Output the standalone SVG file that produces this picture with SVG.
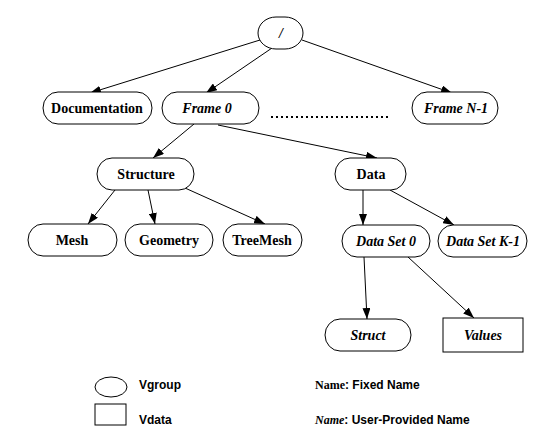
<svg xmlns="http://www.w3.org/2000/svg" width="556" height="436" viewBox="0 0 556 436">
<style>
.n{fill:#fff;stroke:#000;stroke-width:1}
.t{font-family:"Liberation Serif",serif;font-size:14px;font-weight:bold;text-anchor:middle;fill:#000}
.i{font-style:italic}
.e{stroke:#000;stroke-width:1;fill:none;marker-end:url(#a)}
.s{font-family:"Liberation Sans",sans-serif;font-size:12px;font-weight:bold;fill:#000}
.sr{font-family:"Liberation Serif",serif;font-weight:bold}
</style>
<defs>
<marker id="a" markerUnits="userSpaceOnUse" markerWidth="12" markerHeight="8" refX="11" refY="4" orient="auto">
<path d="M0,0 L11,4 L0,8 Z" fill="#000"/>
</marker>
</defs>
<rect width="556" height="436" fill="#fff"/>
<g id="connectors">
<line class="e" x1="260" y1="40" x2="90" y2="93"/>
<line class="e" x1="272" y1="48" x2="206" y2="93"/>
<line class="e" x1="302" y1="40" x2="452" y2="93"/>
<line class="e" x1="194" y1="124" x2="153" y2="158"/>
<line class="e" x1="218" y1="125" x2="377" y2="158"/>
<line class="e" x1="115" y1="190" x2="88" y2="224"/>
<line class="e" x1="148" y1="190" x2="155" y2="224"/>
<line class="e" x1="185" y1="188" x2="265" y2="224"/>
<line class="e" x1="363" y1="190" x2="363" y2="225"/>
<line class="e" x1="390" y1="190" x2="454" y2="225"/>
<line class="e" x1="364" y1="257" x2="367" y2="319"/>
<line class="e" x1="408" y1="257" x2="474" y2="318"/>
<line x1="271" y1="117" x2="390" y2="117" stroke="#000" stroke-width="2" stroke-dasharray="2 3"/>
</g>
<g id="root"><rect class="n" x="258" y="17" width="45" height="32" rx="18" ry="16"/><text class="t i" x="281" y="38">/</text></g>
<g id="documentation"><rect class="n" x="43" y="92" width="109" height="32" rx="15" ry="16"/><text class="t" x="97" y="113">Documentation</text></g>
<g id="frame0"><rect class="n" x="162" y="92" width="97" height="32" rx="15" ry="16"/><text class="t i" x="207" y="113">Frame 0</text></g>
<g id="frameN1"><rect class="n" x="412" y="92" width="86" height="32" rx="15" ry="16"/><text class="t i" x="456" y="113">Frame N-1</text></g>
<g id="structure"><rect class="n" x="97" y="158" width="97" height="32" rx="15" ry="16"/><text class="t" x="146" y="179">Structure</text></g>
<g id="data"><rect class="n" x="335" y="158" width="71" height="32" rx="15" ry="16"/><text class="t" x="371" y="179">Data</text></g>
<g id="mesh"><rect class="n" x="28" y="224" width="89" height="32" rx="15" ry="16"/><text class="t" x="72" y="245">Mesh</text></g>
<g id="geometry"><rect class="n" x="125" y="224" width="88" height="32" rx="15" ry="16"/><text class="t" x="169" y="245">Geometry</text></g>
<g id="treemesh"><rect class="n" x="223" y="224" width="79" height="32" rx="15" ry="16"/><text class="t" x="262" y="245">TreeMesh</text></g>
<g id="dataset0"><rect class="n" x="342" y="225" width="88" height="32" rx="15" ry="16"/><text class="t i" x="386" y="246">Data Set 0</text></g>
<g id="datasetK1"><rect class="n" x="438" y="225" width="89" height="32" rx="15" ry="16"/><text class="t i" x="483" y="246">Data Set K-1</text></g>
<g id="struct"><rect class="n" x="325" y="319" width="86" height="32" rx="15" ry="16"/><text class="t i" x="368" y="340">Struct</text></g>
<g id="values"><rect class="n" x="443" y="318" width="80" height="34"/><text class="t i" x="483" y="340">Values</text></g>
<g id="legend">
<ellipse class="n" cx="111" cy="387" rx="16" ry="10"/>
<text class="s" x="139" y="389">Vgroup</text>
<rect class="n" x="95" y="404" width="31" height="21"/>
<text class="s" x="139" y="424">Vdata</text>
<text class="s" x="315" y="389"><tspan class="sr">Name</tspan>: Fixed Name</text>
<text class="s" x="315" y="424"><tspan class="sr" font-style="italic">Name</tspan>: User-Provided Name</text>
</g>
</svg>
